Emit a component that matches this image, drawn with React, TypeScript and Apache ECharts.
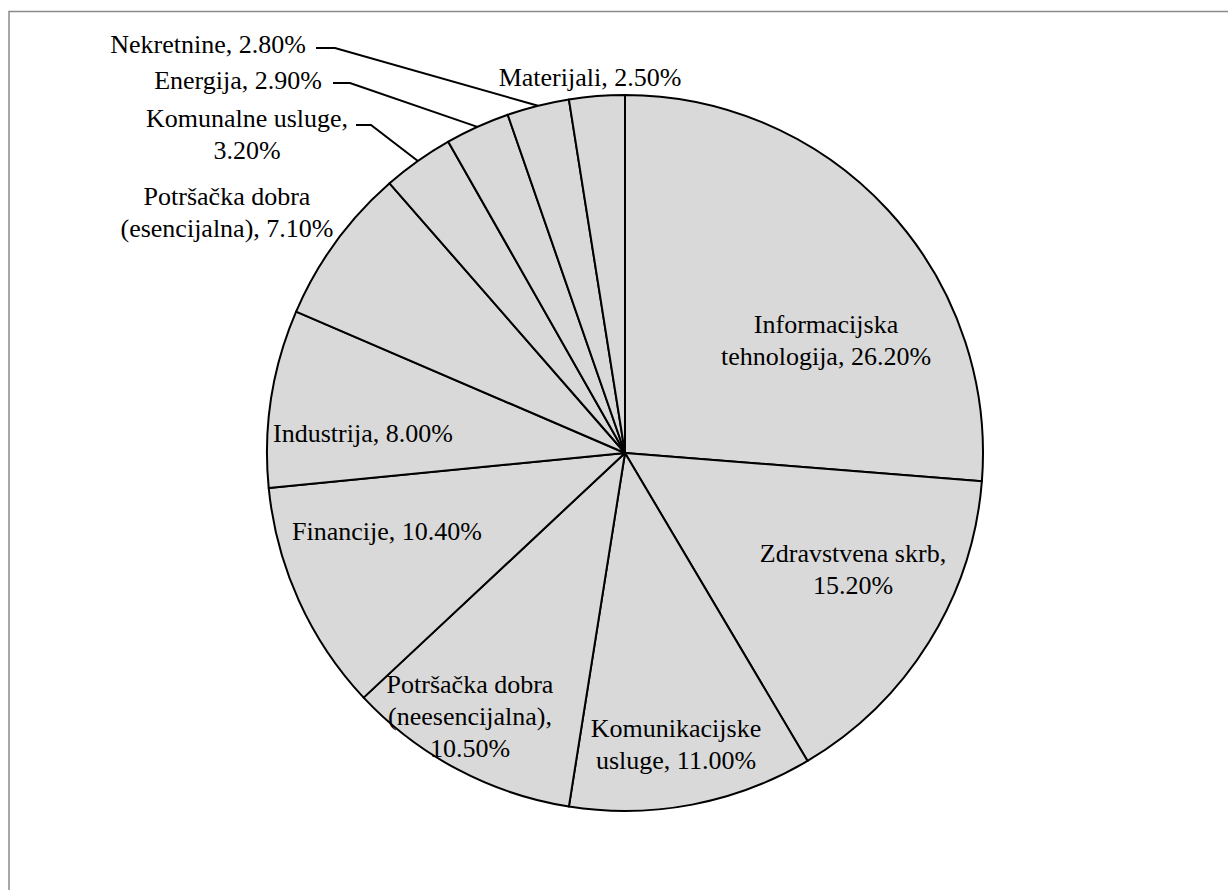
import React, { useEffect, useRef } from "react";
import * as echarts from "echarts";

// ---- Data ----
const CATEGORIES = [
  "Informacijska tehnologija",
  "Zdravstvena skrb",
  "Komunikacijske usluge",
  "Potršačka dobra (neesencijalna)",
  "Financije",
  "Industrija",
  "Potršačka dobra (esencijalna)",
  "Komunalne usluge",
  "Energija",
  "Nekretnine",
  "Materijali",
];
const VALUES = [26.2, 15.2, 11.0, 10.5, 10.4, 8.0, 7.1, 3.2, 2.9, 2.8, 2.5];

// ---- Label wrapping (presentation) ----
const NAME_LINES = [
  "Informacijska\ntehnologija",
  "Zdravstvena skrb",
  "Komunikacijske\nusluge",
  "Potršačka dobra\n(neesencijalna)",
  "Financije",
  "Industrija",
  "Potršačka dobra\n(esencijalna)",
  "Komunalne usluge",
  "Energija",
  "Nekretnine",
  "Materijali",
];
const VALUE_ON_NEW_LINE = [false, true, false, true, false, false, false, true, false, false, false];
const OUTSIDE = [false, false, false, false, false, false, true, true, true, true, true];

// ---- Label layout (presentation) ----
const LABEL_POS: Record<number, [number, number]> = {
  0: [826, 340],
  1: [853, 569],
  2: [676, 744],
  3: [470, 716],
  4: [387, 531],
  5: [363, 433],
  6: [227, 212],
  7: [247, 134],
  8: [238, 80],
  9: [208, 44],
  10: [590, 77],
};
const LEADERS: Record<number, [[number, number], [number, number]]> = {
  7: [[371, 125], [356, 125]],
  8: [[350, 83], [333, 83]],
  9: [[335, 48], [316, 48]],
};

const FONT = "Liberation Serif";

export default function App() {
  const ref = useRef<HTMLDivElement>(null);
  useEffect(() => {
    if (!ref.current) return;
    const chart = echarts.init(ref.current, undefined, { renderer: "svg" });
    chart.setOption({
      animation: false,
      backgroundColor: "#ffffff",
      textStyle: { fontFamily: FONT },
      graphic: [
        {
          type: "rect",
          silent: true,
          z: -10,
          shape: { x: 9, y: 11.5, width: 1400, height: 1000 },
          style: { fill: "none", stroke: "#8a8a8a", lineWidth: 1.5 },
        },
      ],
      series: [
        {
          type: "pie",
          center: [625, 453],
          radius: 358,
          startAngle: 90,
          clockwise: true,
          avoidLabelOverlap: false,
          emphasis: { disabled: true },
          itemStyle: { color: "#d9d9d9", borderColor: "#000000", borderWidth: 2 },
          label: {
            show: true,
            position: "inside",
            color: "#000000",
            fontFamily: FONT,
            fontSize: 26,
            lineHeight: 32,
            align: "center",
            formatter: (p: any) =>
              NAME_LINES[p.dataIndex] +
              "," +
              (VALUE_ON_NEW_LINE[p.dataIndex] ? "\n" : " ") +
              Number(p.value).toFixed(2) +
              "%",
          },
          labelLine: { show: false, lineStyle: { color: "#000000", width: 2 } },
          labelLayout: (params: any) => {
            const i = params.dataIndex;
            const pos = LABEL_POS[i];
            const res: any = { x: pos[0], y: pos[1], align: "center", verticalAlign: "middle" };
            const leader = LEADERS[i];
            if (leader && params.labelLinePoints) {
              res.labelLinePoints = [params.labelLinePoints[0], leader[0], leader[1]];
            }
            return res;
          },
          data: VALUES.map((v, i) => ({
            name: CATEGORIES[i],
            value: v,
            label: OUTSIDE[i] ? { position: "outside" } : undefined,
            labelLine: LEADERS[i] ? { show: true, length: 12, length2: 12 } : { show: false },
          })),
        },
      ],
    });
    return () => chart.dispose();
  }, []);
  return (
    <div
      ref={ref}
      style={{ position: "absolute", left: 0, top: 0, width: 1228, height: 890 }}
    />
  );
}
